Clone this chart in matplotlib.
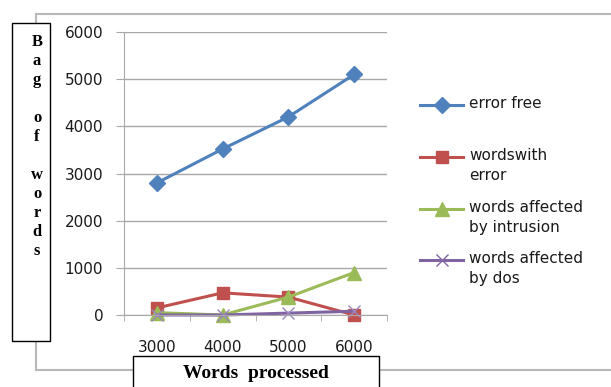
import matplotlib.pyplot as plt
from matplotlib.patches import Rectangle
from matplotlib.lines import Line2D

# data
words = ['3000', '4000', '5000', '6000']
error_free = [2800, 3520, 4200, 5100]
with_error = [150, 470, 380, 0]
intrusion = [50, 0, 380, 900]
dos = [0, 0, 40, 80]

series = [
    ('error free', error_free, '#4F81BD', 'D', 8),
    ('wordswith\nerror', with_error, '#C0504D', 's', 9),
    ('words affected\nby intrusion', intrusion, '#9BBB59', '^', 10),
    ('words affected\nby dos', dos, '#8064A2', 'x', 9),
]

W, H = 611, 387
fig = plt.figure(figsize=(W / 100, H / 100), dpi=100)


def fx(px):
    return px / W


def fy(py):
    return 1 - py / H


# outer chart frame
fig.add_artist(Line2D([fx(36), fx(36)], [fy(14), fy(370)], color='#b8b8b8', lw=1.5, zorder=1))
fig.add_artist(Line2D([fx(36), fx(611)], [fy(14), fy(14)], color='#b8b8b8', lw=1.5, zorder=1))
fig.add_artist(Line2D([fx(36), fx(611)], [fy(370), fy(370)], color='#b8b8b8', lw=1.5, zorder=1))

ax = fig.add_axes([fx(124), fy(315), fx(387) - fx(124), fy(32) - fy(315)])
ax.patch.set_alpha(0)
x = list(range(len(words)))
for label, vals, col, mk, ms in series:
    if mk == 'x':
        ax.plot(x, vals, color=col, lw=2.2, marker=mk, ms=ms, mew=1, mec='#9b86bd',
                clip_on=False)
    else:
        ax.plot(x, vals, color=col, lw=2.2, marker=mk, ms=ms, clip_on=False)

ax.set_xlim(-0.5, 3.5)
ax.set_ylim(0, 6000)
ax.set_yticks(range(0, 6001, 1000))
ax.set_xticks(x)
ax.set_xticklabels(words)
ax.set_xticks([-0.5, 0.5, 1.5, 2.5, 3.5], minor=True)
ax.grid(axis='y', color='#a8a8a8', lw=1)
ax.set_axisbelow(True)
for s in ['top', 'right']:
    ax.spines[s].set_visible(False)
for s in ['left', 'bottom']:
    ax.spines[s].set_color('#a8a8a8')
ax.tick_params(axis='y', length=6, color='#a8a8a8', pad=9, labelsize=11, labelcolor='#1a1a1a')
ax.tick_params(axis='x', which='major', length=0, pad=18, labelsize=11, labelcolor='#1a1a1a')
ax.tick_params(axis='x', which='minor', length=4, color='#a8a8a8')

# y label box
fig.add_artist(Rectangle((fx(12), fy(341)), fx(50) - fx(12), fy(23) - fy(341),
                         fill=True, fc='white', ec='black', lw=1, zorder=5))
fig.text(fx(37), fy(34), 'B\na\ng\n\no\nf\n\nw\no\nr\nd\ns', ha='center', va='top',
         family='Liberation Serif', weight='bold', fontsize=12, linespacing=1.25,
         zorder=6)

# x label box
fig.add_artist(Rectangle((fx(133), fy(395)), fx(379) - fx(133), fy(356) - fy(395),
                         fill=True, fc='white', ec='black', lw=1, zorder=5))
fig.text(fx(256), fy(373), 'Words  processed', ha='center', va='center',
         family='Liberation Serif', weight='bold', fontsize=14, zorder=6)

# legend
leg_y = [105, 157, 209, 260]
for (label, vals, col, mk, ms), yy in zip(series, leg_y):
    fig.add_artist(Line2D([fx(420), fx(463)], [fy(yy), fy(yy)], color=col, lw=2.2))
    fig.add_artist(Line2D([fx(441.5)], [fy(yy)], color=col, marker=mk, ms=ms, mew=1))
    fig.text(fx(469), fy(yy - 9), label, ha='left', va='top', fontsize=11,
             color='#1a1a1a', linespacing=1.4)

fig.savefig('out.png', dpi=100)
